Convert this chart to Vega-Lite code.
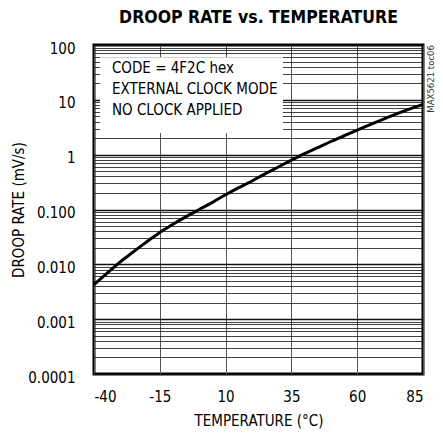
{
  "$schema": "https://vega.github.io/schema/vega-lite/v6.json",
  "width": 329,
  "height": 329,
  "autosize": {"type": "none"},
  "padding": {"left": 94, "top": 45, "right": 20, "bottom": 62},
  "background": "white",
  "config": {
    "font": "DejaVu Sans Condensed",
    "view": {"stroke": "#000", "strokeWidth": 3},
    "axis": {"labelColor": "#000", "titleColor": "#000", "domain": false, "ticks": false, "labelFont": "DejaVu Sans Condensed", "titleFont": "DejaVu Sans Condensed", "titleFontWeight": "normal"}
  },
  "title": {
    "text": "DROOP RATE vs. TEMPERATURE",
    "font": "DejaVu Sans Condensed",
    "fontSize": 17.5,
    "fontWeight": "bold",
    "color": "#000",
    "anchor": "middle",
    "offset": 15
  },
  "layer": [
    {
      "data": {
        "values": [
          {"t": -40, "rate": 0.00427},
          {"t": -35, "rate": 0.00692},
          {"t": -30, "rate": 0.0111},
          {"t": -25, "rate": 0.0170},
          {"t": -20, "rate": 0.0257},
          {"t": -15, "rate": 0.0380},
          {"t": -10, "rate": 0.0537},
          {"t": -5, "rate": 0.0741},
          {"t": 0, "rate": 0.100},
          {"t": 5, "rate": 0.135},
          {"t": 10, "rate": 0.186},
          {"t": 15, "rate": 0.251},
          {"t": 20, "rate": 0.331},
          {"t": 25, "rate": 0.447},
          {"t": 30, "rate": 0.596},
          {"t": 35, "rate": 0.794},
          {"t": 40, "rate": 1.047},
          {"t": 45, "rate": 1.349},
          {"t": 50, "rate": 1.738},
          {"t": 55, "rate": 2.213},
          {"t": 60, "rate": 2.812},
          {"t": 65, "rate": 3.548},
          {"t": 70, "rate": 4.467},
          {"t": 75, "rate": 5.559},
          {"t": 80, "rate": 6.839},
          {"t": 85, "rate": 8.279}
        ]
      },
      "mark": {"type": "line", "color": "#000", "strokeWidth": 3, "interpolate": "monotone"},
      "encoding": {
        "x": {
          "field": "t", "type": "quantitative",
          "scale": {"domain": [-40, 85], "nice": false, "zero": false},
          "axis": {
            "values": [-40, -15, 10, 35, 60, 85],
            "labelExpr": "datum.value < 0 ? '-' + abs(datum.value) : '' + datum.value",
            "grid": true, "gridColor": "#555", "gridWidth": 1,
            "labelFontSize": 15, "labelPadding": 15,
            "title": "TEMPERATURE (°C)", "titleFontSize": 15, "titlePadding": 9
          }
        },
        "y": {
          "field": "rate", "type": "quantitative",
          "scale": {"type": "log", "domain": [0.0001, 100], "nice": false},
          "axis": {
            "values": [0.0001,0.0002,0.0003,0.0004,0.0005,0.0006,0.0007,0.0008,0.0009,0.001,0.002,0.003,0.004,0.005,0.006,0.007,0.008,0.009,0.01,0.02,0.03,0.04,0.05,0.06,0.07,0.08,0.09,0.1,0.2,0.3,0.4,0.5,0.6,0.7,0.8,0.9,1,2,3,4,5,6,7,8,9,10,20,30,40,50,60,70,80,90,100],
            "grid": true, "gridColor": "#111",
            "gridWidth": {"condition": {"test": "indexof([0.001,0.01,0.1,1,10], datum.value) >= 0", "value": 1.6}, "value": 0.8},
            "labelExpr": "datum.value == 100 ? '100' : datum.value == 10 ? '10' : datum.value == 1 ? '1' : datum.value == 0.1 ? '0.100' : datum.value == 0.01 ? '0.010' : datum.value == 0.001 ? '0.001' : datum.value == 0.0001 ? '0.0001' : ''",
            "labelFontSize": 15, "labelPadding": 19, "labelOffset": 3,
            "title": "DROOP RATE (mV/s)", "titleFontSize": 15, "titlePadding": 1
          }
        }
      }
    },
    {
      "data": {"values": [{}]},
      "mark": {"type": "rect", "color": "white"},
      "encoding": {
        "x": {"datum": -37.7},
        "x2": {"datum": 31.8},
        "y": {"datum": 60},
        "y2": {"datum": 2.48}
      }
    },
    {
      "data": {"values": [{}]},
      "mark": {"type": "text", "align": "left", "baseline": "middle", "fontSize": 15, "lineHeight": 21, "color": "#000"},
      "encoding": {
        "x": {"datum": -33.2},
        "y": {"datum": 38},
        "text": {"value": ["CODE = 4F2C hex", "EXTERNAL CLOCK MODE", "NO CLOCK APPLIED"]}
      }
    },
    {
      "data": {"values": [{}]},
      "mark": {"type": "text", "align": "right", "baseline": "middle", "angle": 270, "fontSize": 9.5, "color": "#333", "dy": 8},
      "encoding": {
        "x": {"datum": 85},
        "y": {"datum": 100},
        "text": {"value": "MAX5621 toc06"}
      }
    }
  ]
}
